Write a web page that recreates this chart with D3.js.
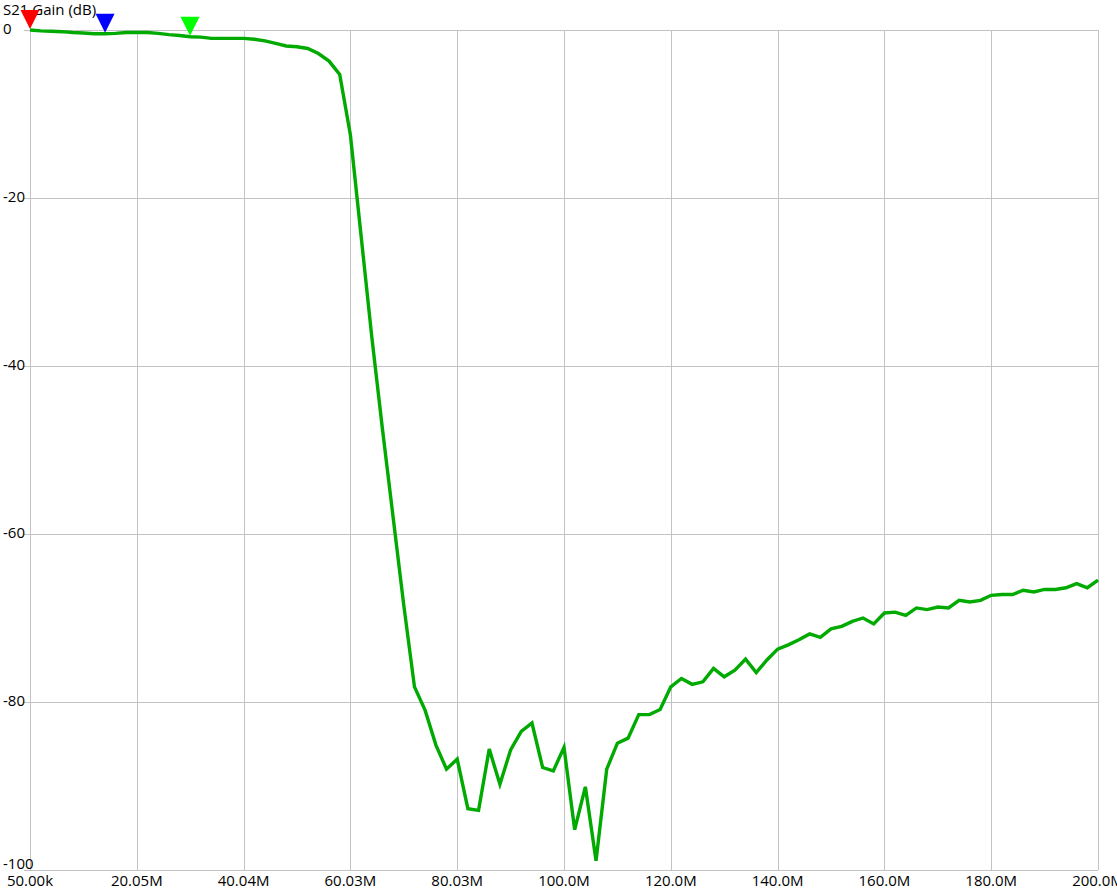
<!DOCTYPE html>
<html>
<head>
<meta charset="utf-8">
<script src="https://cdn.jsdelivr.net/npm/d3@7"></script>
<style>
  html, body { margin: 0; padding: 0; background: #ffffff; overflow: hidden; }
  svg { display: block; }
  text { font-family: "Open Sans", "Noto Sans", sans-serif; font-size: 15px; fill: #000; }
</style>
</head>
<body>
<div id="chart"></div>
<script>
// ---------------- DATA ----------------
const chartTitle = "S21 Gain (dB)";
const sweepStartMHz = 0.05;
const sweepStopMHz = 200;
// S21 gain (dB) at the 101 sweep points
const gainDb = [
  0.0, -0.1, -0.15, -0.2, -0.3, -0.35, -0.45, -0.45, -0.4, -0.3,
  -0.3, -0.3, -0.4, -0.55, -0.65, -0.8, -0.85, -1.0, -1.0, -1.0,
  -1.0, -1.1, -1.3, -1.6, -1.9, -2.0, -2.2, -2.8, -3.7, -5.3,
  -12.5, -24.5, -36.5, -47.5, -58.0, -68.5, -78.2, -81.0, -85.1, -88.0,
  -86.8, -92.7, -92.9, -85.6, -89.8, -85.7, -83.5, -82.5, -87.8, -88.2,
  -85.4, -95.2, -90.1, -98.9, -88.0, -84.9, -84.3, -81.5, -81.5, -80.9,
  -78.2, -77.2, -77.9, -77.6, -76.0, -77.0, -76.2, -74.9, -76.5, -75.0,
  -73.7, -73.2, -72.6, -71.9, -72.3, -71.3, -71.0, -70.4, -70.0, -70.7,
  -69.4, -69.3, -69.7, -68.8, -69.0, -68.7, -68.8, -67.9, -68.1, -67.9,
  -67.3, -67.2, -67.2, -66.7, -66.9, -66.6, -66.6, -66.4, -65.9, -66.4,
  -65.5
];
const xTickValuesMHz = [0.05, 20.045, 40.04, 60.035, 80.03, 100.025, 120.02, 140.015, 160.01, 180.005, 200];
const xTickLabels = ["50.00k", "20.05M", "40.04M", "60.03M", "80.03M", "100.0M", "120.0M", "140.0M", "160.0M", "180.0M", "200.0M"];
const yTickValues = [0, -20, -40, -60, -80, -100];
const yTickLabels = ["0", "-20", "-40", "-60", "-80", "-100"];
const markerFreqsMHz = [0.05, 14.1, 30.0];
const markerColors = ["#ff0000", "#0000ff", "#00ff00"];

// ---------------- LAYOUT ----------------
const W = 1117, H = 890;
const plotLeft = 30, plotRight = 1098, plotTop = 30, plotBottom = 870;

const freqs = gainDb.map((_, i) => sweepStartMHz + i * (sweepStopMHz - sweepStartMHz) / (gainDb.length - 1));
const points = gainDb.map((g, i) => ({ f: freqs[i], g }));

const x = d3.scaleLinear().domain([sweepStartMHz, sweepStopMHz]).range([plotLeft, plotRight]);
const y = d3.scaleLinear().domain([-100, 0]).range([plotBottom, plotTop]);

const svg = d3.select("#chart").append("svg")
  .attr("width", W).attr("height", H)
  .attr("viewBox", `0 0 ${W} ${H}`);

svg.append("rect").attr("width", W).attr("height", H).attr("fill", "#fff");

const gridColor = "#c3c3c3";

// horizontal grid lines
svg.append("g").selectAll("line").data(yTickValues).join("line")
  .attr("x1", plotLeft - 6).attr("x2", plotRight)
  .attr("y1", d => Math.round(y(d)) + 0.5).attr("y2", d => Math.round(y(d)) + 0.5)
  .attr("stroke", gridColor).attr("stroke-width", 1)
  .attr("shape-rendering", "crispEdges");

// vertical grid lines
svg.append("g").selectAll("line").data(xTickValuesMHz).join("line")
  .attr("x1", d => Math.round(x(d)) + 0.5).attr("x2", d => Math.round(x(d)) + 0.5)
  .attr("y1", plotTop).attr("y2", plotBottom)
  .attr("stroke", gridColor).attr("stroke-width", 1)
  .attr("shape-rendering", "crispEdges");

// y labels
svg.append("g").selectAll("text").data(yTickValues).join("text")
  .attr("x", 3)
  .attr("y", d => Math.min(y(d) + 4, plotBottom - 1))
  .attr("text-anchor", "start")
  .text((d, i) => yTickLabels[i]);

// x labels
svg.append("g").selectAll("text").data(xTickValuesMHz).join("text")
  .attr("x", d => x(d))
  .attr("y", plotBottom + 16)
  .attr("text-anchor", "middle")
  .text((d, i) => xTickLabels[i]);

// title
svg.append("text").attr("x", 3).attr("y", 15).text(chartTitle);

// trace
const line = d3.line().x(d => x(d.f)).y(d => y(d.g));
svg.append("path").datum(points)
  .attr("d", line)
  .attr("fill", "none")
  .attr("stroke", "#00aa00")
  .attr("stroke-width", 3.4)
  .attr("stroke-linejoin", "miter");

// markers
const bis = d3.bisector(d => d.f).left;
function gainAt(f) {
  let i = bis(points, f);
  if (i <= 0) return points[0].g;
  if (i >= points.length) return points[points.length - 1].g;
  const a = points[i - 1], b = points[i];
  const t = (f - a.f) / (b.f - a.f);
  return a.g + t * (b.g - a.g);
}
const triW = 19, triH = 19;
svg.append("g").selectAll("path").data(markerFreqsMHz).join("path")
  .attr("d", f => {
    const cx = x(f), tipY = y(gainAt(f)) - 1;
    return `M${cx - triW / 2},${tipY - triH} L${cx + triW / 2},${tipY - triH} L${cx},${tipY} Z`;
  })
  .attr("fill", (d, i) => markerColors[i]);
</script>
</body>
</html>
